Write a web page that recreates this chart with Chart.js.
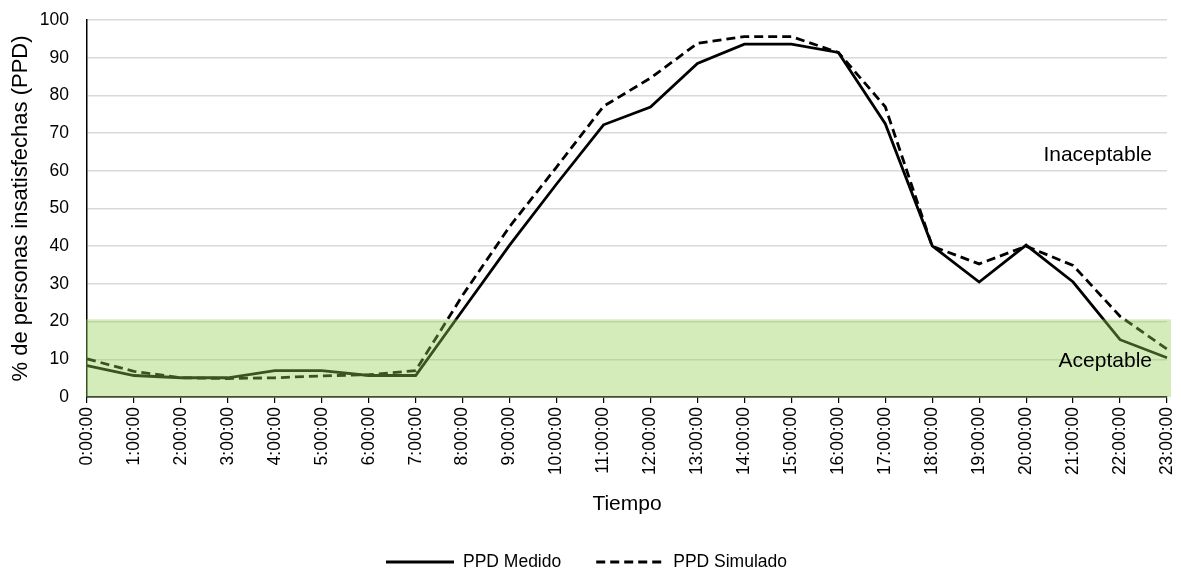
<!DOCTYPE html>
<html>
<head>
<meta charset="utf-8">
<script src="https://cdn.jsdelivr.net/npm/chart.js@4.4.1/dist/chart.umd.min.js"></script>
<style>
  html, body { margin: 0; padding: 0; background: #fff; }
  #wrap { width: 1181px; height: 572px; }
</style>
</head>
<body>
<div id="wrap"><canvas id="c" width="1181" height="572"></canvas></div>
<script>
/* etiquetas de hora y series PPD (%) */
const horas = ['0:00:00','1:00:00','2:00:00','3:00:00','4:00:00','5:00:00','6:00:00','7:00:00',
  '8:00:00','9:00:00','10:00:00','11:00:00','12:00:00','13:00:00','14:00:00','15:00:00',
  '16:00:00','17:00:00','18:00:00','19:00:00','20:00:00','21:00:00','22:00:00','23:00:00'];
const ppdMedido   = [8.3, 5.7, 5.1, 5.1, 7.0, 7.0, 5.7, 5.7, 23, 40.3, 56.5, 72.2, 76.9, 88.5, 93.6, 93.6, 91.4, 72.5, 40.1, 30.5, 40.3, 30.5, 15.2, 10.4];
const ppdSimulado = [10.1, 6.8, 5.1, 4.9, 5.1, 5.6, 5.9, 7.0, 27, 45.2, 61, 77.1, 84.6, 93.8, 95.6, 95.6, 91.4, 77, 40, 35.3, 40, 34.9, 21.4, 12.7];
const yTicks = [0, 10, 20, 30, 40, 50, 60, 70, 80, 90, 100];
const limiteAceptable = 20.6;   // techo de la franja verde
const zonas = [ { txt: 'Inaceptable', y: 64.2 }, { txt: 'Aceptable', y: 9.4 } ];

const FONT = "'Liberation Sans', Arial, sans-serif";

/* franja verde translúcida encima de las líneas + rótulos de zona */
const franja = {
  id: 'franja',
  afterDatasetsDraw(chart) {
    const { ctx, chartArea: a, scales: { y } } = chart;
    const top = y.getPixelForValue(limiteAceptable), bot = y.getPixelForValue(0);
    ctx.save();
    ctx.fillStyle = 'rgba(146,208,80,0.4)';
    ctx.fillRect(a.left - 1, top, a.right - a.left + 5, bot - top);
    ctx.fillStyle = '#000';
    ctx.font = '21px ' + FONT;
    ctx.textAlign = 'right'; ctx.textBaseline = 'middle';
    zonas.forEach(z => ctx.fillText(z.txt, a.right - 15, y.getPixelForValue(z.y)));
    ctx.restore();
  }
};

/* leyenda abajo: muestra de línea (con su trazo) + texto */
const leyenda = {
  id: 'leyenda',
  afterDraw(chart) {
    const { ctx } = chart;
    const ds = chart.data.datasets, sw = 68, gap = 9, sep = 35, yc = 562;
    ctx.save();
    ctx.font = '17.5px ' + FONT;
    const ws = ds.map(d => ctx.measureText(d.label).width);
    const total = ws.reduce((s, w) => s + sw + gap + w, 0) + sep * (ds.length - 1);
    let x = chart.width / 2 - 4 - total / 2;
    ds.forEach((d, i) => {
      ctx.strokeStyle = d.borderColor; ctx.lineWidth = 3;
      ctx.setLineDash(d.borderDash || []);
      ctx.beginPath(); ctx.moveTo(x, yc); ctx.lineTo(x + sw, yc); ctx.stroke();
      ctx.fillStyle = '#000'; ctx.textAlign = 'left'; ctx.textBaseline = 'middle';
      ctx.fillText(d.label, x + sw + gap, yc);
      x += sw + gap + ws[i] + sep;
    });
    ctx.restore();
  }
};

new Chart(document.getElementById('c'), {
  type: 'line',
  data: {
    labels: horas,
    datasets: [
      { label: 'PPD Medido', data: ppdMedido, borderColor: '#000', borderWidth: 2.8, pointRadius: 0, tension: 0 },
      { label: 'PPD Simulado', data: ppdSimulado, borderColor: '#000', borderWidth: 2.8, borderDash: [9, 5], pointRadius: 0, tension: 0 },
    ],
  },
  options: {
    responsive: false, animation: false,
    layout: { padding: { top: 20, right: 14, left: 0, bottom: 54 } },
    plugins: { legend: { display: false }, tooltip: { enabled: false } },
    scales: {
      x: {
        offset: false,
        grid: { drawOnChartArea: false, drawTicks: true, tickLength: 6, color: '#000', lineWidth: 1.2 },
        border: { color: '#000', width: 1.5 },
        ticks: { color: '#000', font: { family: FONT, size: 17.5 }, minRotation: 90, maxRotation: 90, autoSkip: false, padding: 4 },
        title: { display: true, text: 'Tiempo', color: '#000', font: { family: FONT, size: 21 }, padding: { top: 1, bottom: 1 } },
        afterFit(s) { s.height = 121; s.paddingLeft = 0; s.paddingRight = 0; },
      },
      y: {
        min: 0, max: 100,
        afterBuildTicks(s) { s.ticks = yTicks.map(v => ({ value: v })); },
        grid: { color: '#d9d9d9', lineWidth: 1.5, drawTicks: false },
        border: { color: '#000', width: 1.5 },
        ticks: { color: '#000', font: { family: FONT, size: 17.5 }, padding: 18 },
        title: { display: true, text: '% de personas insatisfechas (PPD)', color: '#000', font: { family: FONT, size: 22 }, padding: { top: 8, bottom: 4 } },
        afterFit(s) { s.width = 87; s.paddingTop = 0; s.paddingBottom = 0; },
      },
    },
  },
  plugins: [franja, leyenda],
});
</script>
</body>
</html>
